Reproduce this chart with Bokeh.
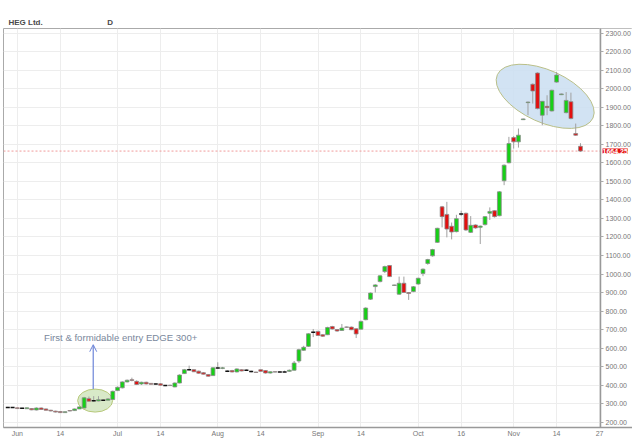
import pandas as pd
from bokeh.plotting import figure
from bokeh.models import (Range1d, FixedTicker, NumeralTickFormatter, Span, Label,
                          Arrow, OpenHead, ColumnDataSource, BoxAnnotation)
from bokeh.embed import file_html
from bokeh.resources import INLINE

TITLE = "HEG Ltd."
PERIOD = "D"
CAL_START = "2017-05-30"
CAL_END = "2017-11-27"
HOLIDAYS = ["2017-06-26", "2017-08-15", "2017-08-25", "2017-10-02", "2017-10-20"]

OPEN = [278, 278, 277, 275, 272, 273, 265, 276, 271, 264, 259, 257, 251, 262, 262, 271,
        276, 326, 315, 314, 318, 318, 322, 370, 385, 417, 429, 420, 406, 415, 409, 406,
        407, 397, 399, 390, 411, 462, 483, 483, 475, 467, 457, 451, 492, 490, 474, 478,
        471, 483, 480, 473, 470, 483, 478, 465, 472, 471, 471, 474, 480, 530, 588, 609,
        685, 690, 672, 672, 716, 700, 695, 714, 713, 704, 702, 753, 864, 932, 959, 1013,
        1046, 938, 891, 950, 900, 905, 946, 1003, 1057, 1098, 1171, 1363, 1322, 1258, 1229, 1324,
        1328, 1225, 1265, 1252, 1267, 1328, 1342, 1315, 1504, 1601, 1737, 1714, 1834, 1926, 2025, 2086,
        1858, 1906, 1881, 2037, 1969, 1872, 1931, 1759, 1690]
HIGH = [282, 280, 279, 277, 279, 275, 279, 279, 273, 266, 261, 258, 258, 264, 273, 285,
        336, 338, 340, 340, 322, 330, 370, 392, 420, 430, 440, 425, 418, 418, 411, 409,
        410, 400, 402, 414, 458, 487, 505, 486, 478, 470, 459, 496, 523, 498, 480, 482,
        490, 486, 485, 478, 472, 485, 480, 474, 474, 474, 478, 484, 530, 596, 612, 680,
        703, 693, 675, 715, 720, 703, 730, 716, 716, 706, 748, 820, 900, 945, 994, 1045,
        1048, 942, 986, 986, 902, 935, 980, 1030, 1082, 1136, 1250, 1368, 1390, 1278, 1320, 1342,
        1332, 1313, 1268, 1262, 1313, 1360, 1345, 1448, 1592, 1741, 1745, 1786, 1840, 1932, 2030, 2090,
        1935, 1966, 1996, 2091, 1975, 1983, 1980, 1813, 1707]
LOW = [276, 276, 272, 273, 271, 264, 263, 267, 262, 258, 252, 249, 249, 258, 260, 270,
       274, 310, 310, 312, 315, 316, 320, 368, 382, 414, 420, 400, 400, 403, 402, 403,
       397, 394, 395, 388, 409, 460, 479, 470, 461, 457, 446, 449, 488, 486, 470, 468,
       468, 474, 476, 468, 466, 472, 462, 462, 468, 469, 469, 472, 478, 520, 585, 606,
       659, 665, 660, 670, 700, 688, 693, 710, 697, 654, 700, 750, 860, 900, 955, 1005,
       984, 937, 888, 897, 860, 902, 942, 988, 1050, 1094, 1168, 1252, 1198, 1187, 1225, 1313,
       1233, 1222, 1245, 1162, 1262, 1292, 1305, 1312, 1480, 1598, 1678, 1683, 1832, 1858, 1921, 1890,
       1804, 1858, 1878, 2033, 1967, 1868, 1836, 1747, 1660]
CLOSE = [278, 278, 273, 275, 277, 266, 276, 268, 264, 260, 254, 251, 256, 260, 271, 282,
         331, 313, 315, 321, 318, 325, 366, 388, 417, 426, 425, 403, 415, 406, 404, 406,
         399, 397, 397, 411, 454, 483, 483, 472, 464, 459, 448, 493, 492, 493, 474, 471,
         487, 476, 480, 473, 468, 474, 465, 472, 470, 471, 471, 480, 519, 591, 604, 677,
         685, 668, 664, 711, 703, 692, 708, 712, 699, 676, 744, 816, 897, 941, 990, 1040,
         986, 941, 950, 900, 895, 931, 977, 1026, 1078, 1132, 1247, 1310, 1243, 1227, 1299, 1324,
         1238, 1263, 1249, 1259, 1310, 1338, 1310, 1444, 1588, 1705, 1714, 1750, 1838, 1929, 1989, 1894,
         1933, 1899, 1993, 2075, 1973, 1938, 1840, 1750, 1664.25]

TICK_DATES = ["2017-06-01", "2017-06-14", "2017-07-03", "2017-07-14", "2017-08-01", "2017-08-14",
              "2017-09-01", "2017-09-14", "2017-10-03", "2017-10-16", "2017-11-01", "2017-11-14",
              "2017-11-27"]
TICK_LABELS = ["Jun", "14", "Jul", "14", "Aug", "14", "Sep", "14", "Oct", "16", "Nov", "14", "27"]
Y_TICKS = list(range(200, 2400, 100))
LAST_PRICE = 1664.25
NOTE = "First & formidable entry EDGE 300+"

# trading calendar -> integer positions
cal = [d.strftime("%Y-%m-%d") for d in pd.bdate_range(CAL_START, CAL_END)
       if d.strftime("%Y-%m-%d") not in HOLIDAYS]
pos = {d: i for i, d in enumerate(cal)}
n = len(OPEN)
xs = list(range(n))

GREEN = "#16d016"
RED = "#e30f0f"
X_START = -0.9
AXIS_X = 124.2          # price scale sits here; the strip to its right holds the labels
X_END = 130.9

df = pd.DataFrame({"x": xs, "o": OPEN, "h": HIGH, "l": LOW, "c": CLOSE})
df["top"] = df[["o", "c"]].max(axis=1)
df["bot"] = df[["o", "c"]].min(axis=1)
up = df[df.c > df.o]
dn = df[df.c < df.o]
dj = df[df.c == df.o]

header = TITLE + "\u00a0" * 29 + PERIOD

p = figure(width=632, height=439,
           x_range=Range1d(X_START, X_END), y_range=Range1d(170.6, 2326.6),
           output_backend="svg", toolbar_location=None, y_axis_location="right",
           min_border_left=3, min_border_top=28, min_border_right=0, min_border_bottom=11,
           background_fill_color="white", border_fill_color="white", title=header)
p.title.text_font = "Liberation Sans"
p.title.text_font_size = "8px"
p.title.text_font_style = "bold"
p.title.text_color = "#4a4a4a"
p.title.align = "left"
p.title.offset = 5
p.title.standoff = 4
p.outline_line_color = "#aaaaaa"

# last price line, then a white strip that masks grid/line right of the price scale
p.add_layout(Span(location=LAST_PRICE, dimension="width", line_color="#f09a9a",
                  line_dash="2 2", line_width=1, level="underlay"))
p.add_layout(BoxAnnotation(left=AXIS_X, fill_color="white", fill_alpha=1.0,
                           line_color=None, level="underlay"))

# highlight ellipses (annotation shapes)
p.ellipse(x=[18.3], y=[316], width=[35], height=[23], width_units="screen",
          height_units="screen", fill_color="#d4e7c2", fill_alpha=0.9,
          line_color="#b8c97c", line_width=1)
p.ellipse(x=[112.6], y=[1960], width=[105], height=[52], angle=[-0.426],
          width_units="screen", height_units="screen", fill_color="#cadef1",
          fill_alpha=0.85, line_color="#b9bf88", line_width=1)

src = ColumnDataSource(df)
p.segment(x0="x", x1="x", y0="l", y1="h", source=src, line_color="#a0a0a0", line_width=1)
p.vbar(x="x", top="top", bottom="bot", width=0.8, source=ColumnDataSource(up),
       fill_color=GREEN, line_color="#8a8a8a", line_width=0.8)
p.vbar(x="x", top="top", bottom="bot", width=0.8, source=ColumnDataSource(dn),
       fill_color=RED, line_color="#8a8a8a", line_width=0.8)
djs = ColumnDataSource({"x0": [v - 0.42 for v in dj.x], "x1": [v + 0.42 for v in dj.x],
                        "y": list(dj.c)})
p.segment(x0="x0", x1="x1", y0="y", y1="y", source=djs, line_color="#111111", line_width=1.5)

# annotation
p.add_layout(Arrow(end=OpenHead(size=7, line_color="#6d85d8", line_width=1),
                   x_start=17.9, y_start=378, x_end=17.9, y_end=618,
                   line_color="#6d85d8", line_width=1.2))
p.add_layout(Label(x=7.6, y=656, text=NOTE, text_font="Liberation Sans",
                   text_font_size="9.6px", text_color="#7a889c", text_baseline="middle"))

# last price tag beside the price scale
p.add_layout(Label(x=AXIS_X, y=LAST_PRICE, x_offset=2, text=f"{LAST_PRICE:.2f}",
                   text_align="left", text_baseline="middle",
                   text_font="Liberation Sans", text_font_size="7px", text_font_style="bold",
                   text_color="white", background_fill_color=RED,
                   background_fill_alpha=1.0))

# axes
p.yaxis.fixed_location = AXIS_X
p.yaxis.ticker = FixedTicker(ticks=Y_TICKS)
p.yaxis.formatter = NumeralTickFormatter(format="0.00")
p.xaxis.ticker = FixedTicker(ticks=[pos[d] for d in TICK_DATES])
p.xaxis.major_label_overrides = {pos[d]: lab for d, lab in zip(TICK_DATES, TICK_LABELS)}
for ax in (p.xaxis, p.yaxis):
    ax.axis_line_color = "#999999"
    ax.axis_line_width = 1.5
    ax.major_label_text_font = "Liberation Sans"
    ax.major_label_text_font_size = "7px"
    ax.major_label_text_color = "#777777"
    ax.minor_tick_line_color = None
    ax.major_tick_in = 0
    ax.major_tick_line_color = "#aaaaaa"
p.yaxis.major_tick_out = 3
p.yaxis.major_label_standoff = 2
p.xaxis.major_tick_out = 0
p.xaxis.major_label_standoff = 2
p.xgrid.ticker = FixedTicker(ticks=[pos[d] for d in TICK_DATES])
p.grid.grid_line_color = "#ededed"

open("out.html", "w").write(file_html(p, INLINE))
